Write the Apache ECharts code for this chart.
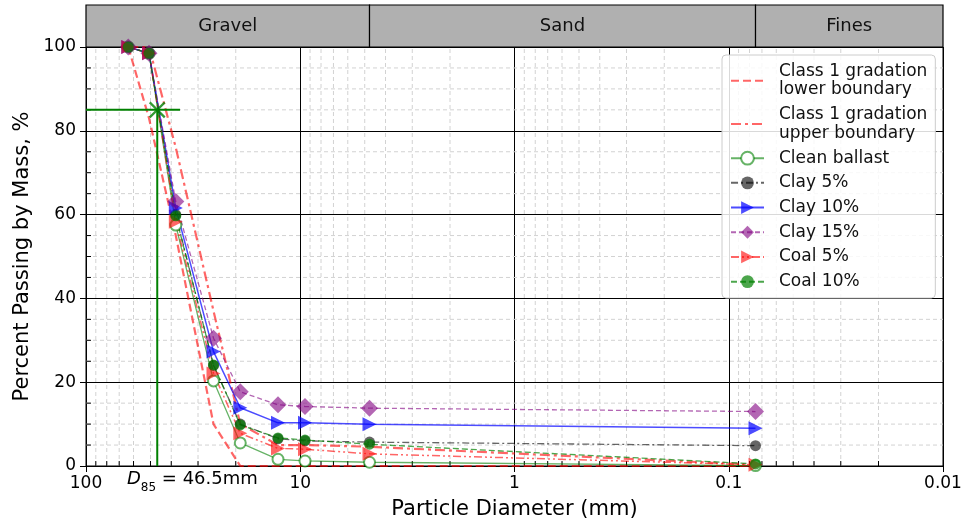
<!DOCTYPE html>
<html>
<head>
<meta charset="utf-8">
<script src="https://cdn.jsdelivr.net/npm/echarts@6/dist/echarts.min.js"></script>
<style>
html,body{margin:0;padding:0;background:#fff;}
#chart{width:966px;height:525px;}
</style>
</head>
<body>
<div id="chart"></div>
<script>
// ---------- data ----------
const sieveSizes = [63.5, 50.8, 38.1, 25.4, 19.05, 12.7, 9.5, 4.75, 0.075];
const lowerBoundary = [100, 83, 55, 10, 0, 0, 0, 0, 0];
const upperBoundary = [100, 100, 76, 37, 10, 5, 5, 4.6, 0.3];
const cleanBallast = [100, 98.5, 57.5, 20.3, 5.5, 1.6, 1.2, 0.9, 0.1];
const clay5 = [100, 98.5, 60.0, 24.0, 10.0, 6.5, 6.0, 5.7, 4.85];
const clay10 = [100, 98.5, 61.6, 27.3, 13.9, 10.3, 10.3, 9.95, 9.0];
const clay15 = [100, 98.5, 63.1, 30.5, 17.7, 14.6, 14.2, 13.8, 13.0];
const coal5 = [100, 98.5, 58.3, 22.1, 7.8, 4.2, 4.0, 2.9, 0.3];
const coal10 = [100, 98.5, 59.7, 24.1, 9.8, 6.7, 6.2, 5.2, 0.5];

const d85 = 46.5;
const d85Percent = 85;
const d85LineEnd = 36.4;

const zoneNames = ['Gravel', 'Sand', 'Fines'];
const zoneFrom = [100, 4.75, 0.075];
const zoneTo = [4.75, 0.075, 0.01];

const xTickValues = [100, 10, 1, 0.1, 0.01];
const xTickLabels = ['100', '10', '1', '0.1', '0.01'];
const minorMultipliers = [2, 3, 4, 5, 6, 7, 8, 9];
const yMinorStep = 5;

// ---------- helpers ----------
const FONT = 'DejaVu Sans';
const pairs = arr => sieveSizes.map((s, i) => [s, arr[i]]);
const xMinor = [];
[0.01, 0.1, 1, 10].forEach(d => minorMultipliers.forEach(m => xMinor.push([m * d, 0])));
const yMinor = [];
for (let v = yMinorStep; v < 100; v += yMinorStep) if (v % 20 !== 0) yMinor.push([100, v]);

const chart = echarts.init(document.getElementById('chart'), null, {renderer: 'canvas'});

const lowerName = 'Class 1 gradation\nlower boundary';
const upperName = 'Class 1 gradation\nupper boundary';

function dataSeries(name, arr, color, lineType, width, symbol, size, extra) {
  return Object.assign({
    name: name, type: 'line', xAxisIndex: 0, yAxisIndex: 0,
    data: pairs(arr), symbol: symbol, symbolSize: size, showSymbol: true,
    lineStyle: {color: color, width: width, type: lineType},
    itemStyle: {color: color},
    emphasis: {disabled: true}, animation: false, z: 3
  }, extra || {});
}

const option = {
  animation: false,
  textStyle: {fontFamily: FONT},
  grid: [
    {left: 86, right: 23, top: 47, bottom: 59, show: true, borderColor: '#000', borderWidth: 1, backgroundColor: 'transparent'},
    {left: 86, right: 23, top: 5, height: 42, show: false}
  ],
  xAxis: [
    {
      type: 'log', logBase: 10, min: 0.01, max: 100, inverse: true, gridIndex: 0,
      name: 'Particle Diameter (mm)', nameLocation: 'middle', nameGap: 33,
      nameTextStyle: {fontSize: 21, color: '#000', fontFamily: FONT},
      axisLine: {show: true, lineStyle: {color: '#000', width: 1}},
      axisTick: {show: true, length: 6, lineStyle: {color: '#000'}},
      axisLabel: {fontSize: 17, color: '#000', margin: 9, fontFamily: FONT,
        formatter: v => {
          let best = 0;
          xTickValues.forEach((t, i) => { if (Math.abs(Math.log10(t) - Math.log10(v)) < Math.abs(Math.log10(xTickValues[best]) - Math.log10(v))) best = i; });
          return xTickLabels[best];
        }},
      splitLine: {show: true, lineStyle: {color: '#000', width: 1}},
      minorTick: {show: false}
    },
    {
      type: 'log', logBase: 10, min: 0.01, max: 100, inverse: true, gridIndex: 1, show: false
    }
  ],
  yAxis: [
    {
      type: 'value', min: 0, max: 100, interval: 20, gridIndex: 0,
      name: 'Percent Passing by Mass, %', nameLocation: 'middle', nameGap: 53,
      nameTextStyle: {fontSize: 21, color: '#000', fontFamily: FONT},
      axisLine: {show: true, lineStyle: {color: '#000', width: 1}},
      axisTick: {show: true, length: 6, lineStyle: {color: '#000'}},
      axisLabel: {fontSize: 17, color: '#000', margin: 10, fontFamily: FONT},
      splitLine: {show: true, lineStyle: {color: '#000', width: 1}}
    },
    {type: 'value', min: 0, max: 1, gridIndex: 1, show: false}
  ],
  legend: {
    orient: 'vertical', left: 722, top: 55,
    padding: [7, 8, 7, 8], itemGap: 6, itemWidth: 33, itemHeight: 16,
    backgroundColor: 'rgba(255,255,255,0.85)', borderColor: '#cccccc', borderWidth: 1, borderRadius: 4,
    textStyle: {fontSize: 17, color: '#111', fontFamily: FONT, lineHeight: 18.7, padding: [0, 0, 0, 10]},
    data: [lowerName, upperName, 'Clean ballast', 'Clay 5%', 'Clay 10%', 'Clay 15%', 'Coal 5%', 'Coal 10%']
  },
  graphic: [
    {
      type: 'text', left: 127, top: 470, z: 10,
      style: {
        text: '{d|D}{s|85}{t| = 46.5mm}',
        rich: {
          d: {fontSize: 18, fontStyle: 'italic', fontFamily: FONT, fill: '#000', verticalAlign: 'top', lineHeight: 24},
          s: {fontSize: 12, fontFamily: FONT, fill: '#000', verticalAlign: 'bottom', lineHeight: 24, padding: [12, 0, 0, 0]},
          t: {fontSize: 18, fontFamily: FONT, fill: '#000', verticalAlign: 'top', lineHeight: 24}
        }
      }
    }
  ],
  series: [
    // minor x grid + inward ticks
    {
      type: 'custom', xAxisIndex: 0, yAxisIndex: 0, data: xMinor, z: 1, silent: true, clip: false,
      encode: {x: 0, y: 1},
      renderItem: (params, api) => {
        const v = api.value(0);
        const p0 = api.coord([v, 0]);
        const p1 = api.coord([v, 100]);
        return {type: 'group', children: [
          {type: 'line', shape: {x1: p0[0], y1: p0[1], x2: p1[0], y2: p1[1]}, style: {stroke: '#d2d2d2', lineWidth: 1, lineDash: [4, 3]}},
          {type: 'line', shape: {x1: p0[0], y1: p0[1], x2: p0[0], y2: p0[1] - 5}, style: {stroke: '#000', lineWidth: 1}}
        ]};
      }
    },
    // minor y grid + inward ticks
    {
      type: 'custom', xAxisIndex: 0, yAxisIndex: 0, data: yMinor, z: 1, silent: true, clip: false,
      encode: {x: 0, y: 1},
      renderItem: (params, api) => {
        const v = api.value(1);
        const p0 = api.coord([100, v]);
        const p1 = api.coord([0.01, v]);
        return {type: 'group', children: [
          {type: 'line', shape: {x1: p0[0], y1: p0[1], x2: p1[0], y2: p1[1]}, style: {stroke: '#d2d2d2', lineWidth: 1, lineDash: [4, 3]}},
          {type: 'line', shape: {x1: p0[0], y1: p0[1], x2: p0[0] + 5, y2: p0[1]}, style: {stroke: '#000', lineWidth: 1}}
        ]};
      }
    },
    // soil zone band
    {
      type: 'custom', xAxisIndex: 1, yAxisIndex: 1, silent: true, clip: false,
      data: zoneNames.map((n, i) => [zoneFrom[i], zoneTo[i], i]),
      encode: {x: [0, 1]},
      renderItem: (params, api) => {
        const a = api.coord([api.value(0), 1]);
        const b = api.coord([api.value(1), 0]);
        return {type: 'group', children: [
          {type: 'rect', shape: {x: a[0], y: a[1], width: b[0] - a[0], height: b[1] - a[1]}, style: {fill: '#b0b0b0', stroke: '#000', lineWidth: 1.2}},
          {type: 'text', x: (a[0] + b[0]) / 2, y: (a[1] + b[1]) / 2,
           style: {text: zoneNames[api.value(2)], fontSize: 18, fontFamily: FONT, fill: '#111', align: 'center', verticalAlign: 'middle'}}
        ]};
      }
    },
    dataSeries(lowerName, lowerBoundary, 'rgba(255,0,0,0.6)', [8, 4], 2.2, 'circle', 1,
      {z: 2, showSymbol: false, itemStyle: {color: 'rgba(255,0,0,0.6)', opacity: 0}}),
    dataSeries(upperName, upperBoundary, 'rgba(255,0,0,0.6)', [10, 4, 3, 4], 2.2, 'circle', 1,
      {z: 2, showSymbol: false, itemStyle: {color: 'rgba(255,0,0,0.6)', opacity: 0}}),
    dataSeries('Clean ballast', cleanBallast, 'rgba(0,128,0,0.6)', 'solid', 1.3, 'emptyCircle', 11,
      {itemStyle: {color: 'rgba(0,128,0,0.6)', borderWidth: 1.5}}),
    dataSeries('Clay 5%', clay5, 'rgba(0,0,0,0.6)', [7, 3, 2, 3], 1.3, 'circle', 11),
    dataSeries('Clay 10%', clay10, 'rgba(0,0,255,0.7)', 'solid', 1.5, 'triangle', 14, {symbolRotate: -90}),
    dataSeries('Clay 15%', clay15, 'rgba(128,0,128,0.6)', [5, 3], 1.3, 'diamond', 17),
    dataSeries('Coal 5%', coal5, 'rgba(255,0,0,0.6)', [8, 3, 2, 3, 2, 3], 1.5, 'triangle', 14, {symbolRotate: -90}),
    dataSeries('Coal 10%', coal10, 'rgba(0,128,0,0.7)', [6, 3], 1.3, 'circle', 11),
    // D85 guide lines
    {
      name: 'D85h', type: 'line', xAxisIndex: 0, yAxisIndex: 0, data: [[100, d85Percent], [d85LineEnd, d85Percent]],
      symbol: 'none', lineStyle: {color: '#008000', width: 2}, z: 4, silent: true
    },
    {
      name: 'D85v', type: 'line', xAxisIndex: 0, yAxisIndex: 0, data: [[d85, d85Percent], [d85, 0]],
      symbol: 'none', lineStyle: {color: '#008000', width: 2}, z: 4, silent: true
    },
    {
      name: 'D85pt', type: 'scatter', xAxisIndex: 0, yAxisIndex: 0, data: [[d85, d85Percent]],
      symbol: 'path://M0,0L10,10M10,0L0,10', symbolSize: 15,
      itemStyle: {color: 'none', borderColor: '#008000', borderWidth: 2.2}, z: 5, silent: true
    }
  ]
};
chart.setOption(option);
</script>
</body>
</html>
